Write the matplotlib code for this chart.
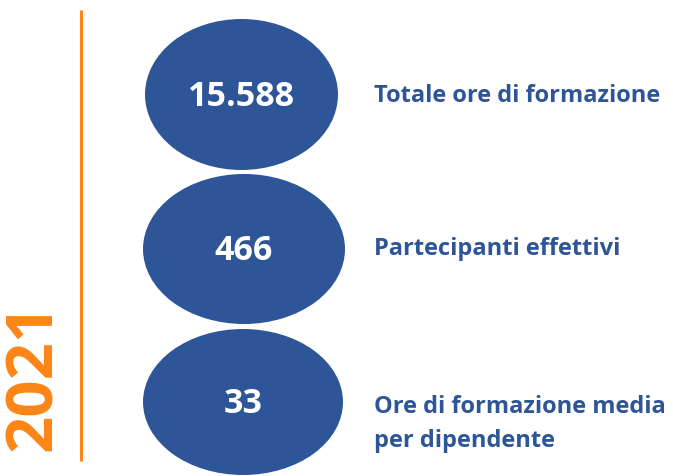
import matplotlib
matplotlib.use("Agg")
import matplotlib.pyplot as plt
from matplotlib.patches import Ellipse

year = "2021"
values = ["15.588", "466", "33"]
labels = ["Totale ore di formazione", "Partecipanti effettivi",
          "Ore di formazione media\nper dipendente"]

# layout (pixel coordinates)
centers = [(241.5, 95.5), (244, 250), (243, 403)]
sizes = [(193, 151), (202, 150), (200, 146)]
label_y = [96, 249, 424]

BLUE = "#2E5597"
ORANGE = "#FB8616"
FONT = "Open Sans"

fig = plt.figure(figsize=(6.73, 4.77), dpi=100)
ax = fig.add_axes([0, 0, 1, 1])
ax.set_xlim(0, 673)
ax.set_ylim(477, 0)
ax.axis("off")

ax.plot([81, 81], [11, 462], color=ORANGE, lw=2.2, solid_capstyle="butt")
ax.text(35, 376, year, rotation=90, ha="center", va="center", color=ORANGE,
        fontsize=47, fontweight="bold", family=FONT)

for (cx, cy), (w, h), v, lab, ly in zip(centers, sizes, values, labels, label_y):
    ax.add_patch(Ellipse((cx, cy), w, h, facecolor=BLUE, edgecolor="none"))
    ax.text(cx, cy + 1, v, ha="center", va="center", color="white",
            fontsize=24.5, fontweight="bold", family=FONT)
    ax.text(374, ly, lab, ha="left", va="center", color=BLUE,
            fontsize=17, fontweight="bold", family=FONT, linespacing=1.6)

fig.savefig("out.png", dpi=100)
